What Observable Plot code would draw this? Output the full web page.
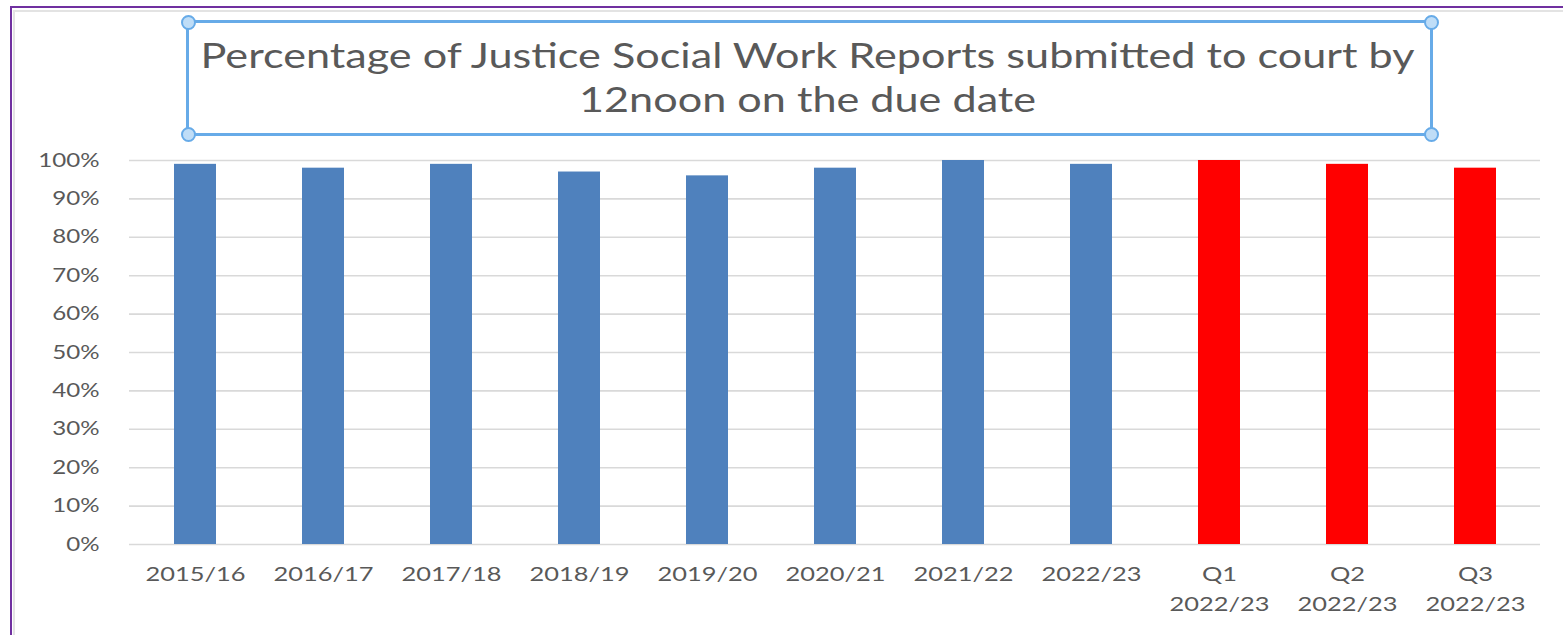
<!DOCTYPE html>
<html>
<head>
<meta charset="utf-8">
<script src="https://cdn.jsdelivr.net/npm/d3@7"></script>
<script src="https://cdn.jsdelivr.net/npm/@observablehq/plot@0.6"></script>
<style>
  html, body { margin: 0; padding: 0; background: #fff; }
  #wrap { position: relative; width: 1563px; height: 635px; overflow: hidden; font-family: Lato, "Open Sans", sans-serif; }
  #outer { position: absolute; left: 10px; top: 6px; width: 1560px; height: 640px; border-left: 2px solid #7030A0; border-top: 2px solid #7030A0; box-sizing: border-box; }
  #inner { position: absolute; left: 13px; top: 10px; width: 1560px; height: 640px; border-left: 2px solid #e3e3e3; border-top: 2px solid #e3e3e3; box-sizing: border-box; }
  #chart { position: absolute; left: 0; top: 0; }
  #titlebox { position: absolute; left: 186px; top: 20px; width: 1247px; height: 116px; border: 3px solid #67ABE8; box-sizing: border-box; }
  #title { position: absolute; left: 185px; top: 33px; width: 1245px; text-align: center; color: #595959; font-size: 34px; line-height: 44px; font-family: Lato, "Open Sans", sans-serif; transform: scaleX(1.27); transform-origin: center; }
  .h { position: absolute; width: 15px; height: 15px; border-radius: 50%; background: #BFDDF7; border: 2.5px solid #67ABE8; box-sizing: border-box; }
</style>
</head>
<body>
<div id="wrap">
  <div id="outer"></div>
  <div id="inner"></div>
  <div id="chart"></div>
  <div id="titlebox"></div>
  <div class="h" style="left:181px;top:15px"></div>
  <div class="h" style="left:1424px;top:15px"></div>
  <div class="h" style="left:181px;top:127px"></div>
  <div class="h" style="left:1424px;top:127px"></div>
  <div id="title">Percentage of Justice Social Work Reports submitted to court by<br>12noon on the due date</div>
</div>
<script>
const categories = ["2015/16","2016/17","2017/18","2018/19","2019/20","2020/21","2021/22","2022/23","Q1\n2022/23","Q2\n2022/23","Q3\n2022/23"];
const values = [0.99, 0.98, 0.99, 0.97, 0.96, 0.98, 1.00, 0.99, 1.00, 0.99, 0.98];
const groups = ["annual","annual","annual","annual","annual","annual","annual","annual","quarter","quarter","quarter"];
const yTicks = [0,0.1,0.2,0.3,0.4,0.5,0.6,0.7,0.8,0.9,1.0];

const data = categories.map((c, i) => ({category: c, value: values[i], group: groups[i]}));

const chart = Plot.plot({
  width: 1563,
  height: 635,
  marginTop: 160,
  marginBottom: 91,
  marginLeft: 129,
  marginRight: 23,
  style: {fontFamily: "Lato, 'Open Sans', sans-serif", background: "transparent", color: "#595959"},
  x: {domain: categories, paddingInner: 0.675, paddingOuter: 0.3375, label: null},
  y: {domain: [0, 1], label: null},
  color: {domain: ["annual","quarter"], range: ["#4F81BD","#FF0000"]},
  marks: [
    Plot.ruleY(yTicks, {stroke: "#d9d9d9", strokeWidth: 1.6}),
    Plot.barY(data, {x: "category", y: "value", fill: "group"}),
    Plot.axisY({ticks: yTicks, tickFormat: d => Math.round(d*100) + "%", tickSize: 0, tickPadding: 30, fontSize: 19, fill: "#595959", label: null}),
    Plot.axisX({tickSize: 0, tickPadding: 15, fontSize: 20, fill: "#595959", label: null, lineHeight: 1.5})
  ]
});

// The reference image is horizontally stretched: widen tick label glyphs to match.
d3.select(chart).selectAll("g[aria-label$='tick label'] text").each(function() {
  const t = d3.select(this);
  const tr = t.attr("transform");
  if (tr) {
    t.attr("transform", tr + " scale(1.27,1)");
  } else {
    const x = +t.attr("x") || 0, y = +t.attr("y") || 0;
    t.attr("x", null).attr("y", null).attr("transform", `translate(${x},${y}) scale(1.27,1)`);
  }
});

document.getElementById("chart").appendChild(chart);
</script>
</body>
</html>
